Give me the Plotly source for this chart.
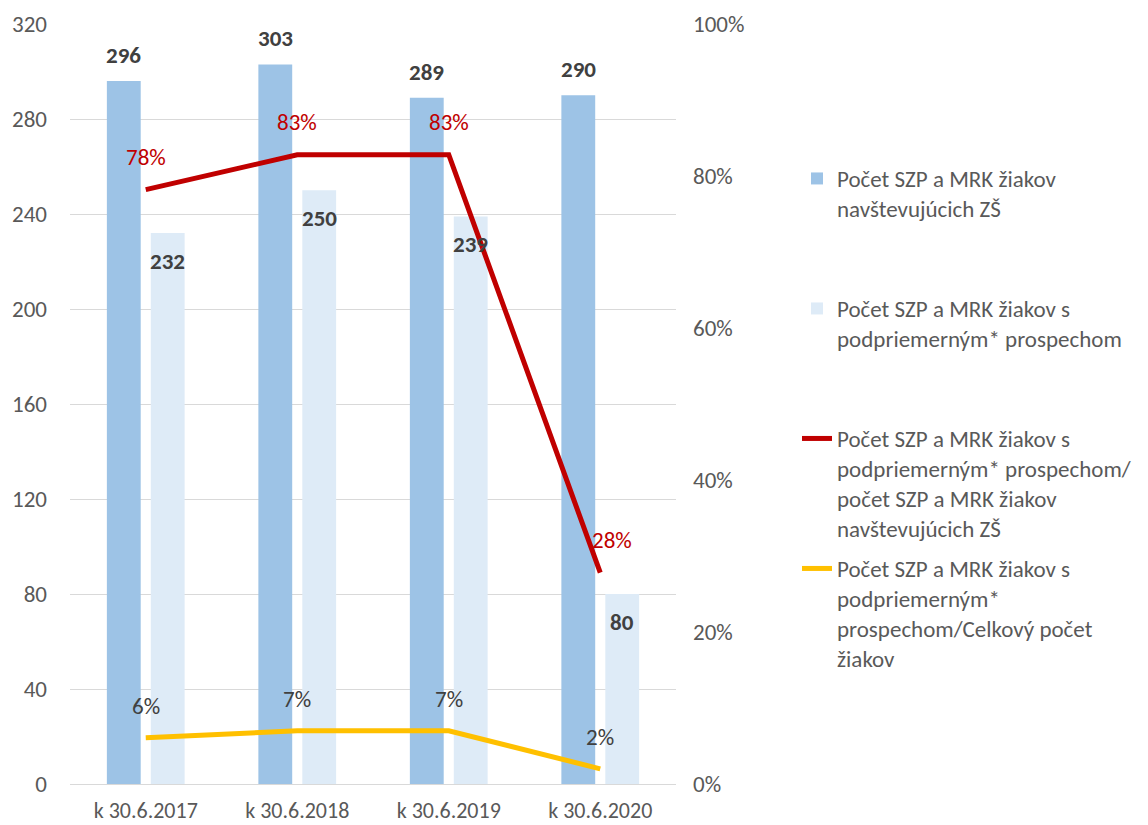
import plotly.graph_objects as go

categories = ["k 30.6.2017", "k 30.6.2018", "k 30.6.2019", "k 30.6.2020"]
pocet_zs = [296, 303, 289, 290]
pocet_podpriemer = [232, 250, 239, 80]
podiel_zs = [0.782, 0.828, 0.828, 0.278]
podiel_zs_labels = ["78%", "83%", "83%", "28%"]
podiel_celkom = [0.061, 0.07, 0.07, 0.02]
podiel_celkom_labels = ["6%", "7%", "7%", "2%"]

names = [
    "Počet SZP a MRK žiakov<br>navštevujúcich ZŠ",
    "Počet SZP a MRK žiakov s<br>podpriemerným* prospechom",
    "Počet SZP a MRK žiakov s<br>podpriemerným* prospechom/<br>počet SZP a MRK žiakov<br>navštevujúcich ZŠ",
    "Počet SZP a MRK žiakov s<br>podpriemerným*<br>prospechom/Celkový počet<br>žiakov",
]

FONT = "Calibri, Carlito, Lato, sans-serif"
OFF = 8  # page body margin
W, H = 1140, 817
L, R, T, B = 62, 472, 16, 41
pw, ph = W - L - R, H - T - B


def px_y(screen_y):
    return (T + ph - (screen_y - OFF)) / ph


def px_x(screen_x):
    return (screen_x - OFF - L) / pw


fig = go.Figure()
fig.add_trace(go.Bar(x=categories, y=pocet_zs, name=names[0], marker_color="#9dc3e6",
                     marker_line_width=0, legend="legend"))
fig.add_trace(go.Bar(x=categories, y=pocet_podpriemer, name=names[1], marker_color="#deebf7",
                     marker_line_width=0, legend="legend2"))
fig.add_trace(go.Scatter(x=categories, y=podiel_zs, name=names[2], yaxis="y2", mode="lines",
                         line=dict(color="#c00000", width=5), legend="legend3"))
fig.add_trace(go.Scatter(x=categories, y=podiel_celkom, name=names[3], yaxis="y2", mode="lines",
                         line=dict(color="#ffc000", width=5), legend="legend4"))

LBL = 23
ann = []
for c, v in zip(categories, pocet_zs):
    ann.append(dict(x=c, y=v, xref="x", yref="y", text=f"<b>{v}</b>", showarrow=False,
                    xshift=-22, yshift=26, font=dict(size=LBL, color="#404040", family=FONT)))
for c, v in zip(categories, pocet_podpriemer):
    ann.append(dict(x=c, y=v, xref="x", yref="y", text=f"<b>{v}</b>", showarrow=False,
                    xshift=22, yshift=-28, font=dict(size=LBL, color="#404040", family=FONT)))
for i, (c, v, t) in enumerate(zip(categories, podiel_zs, podiel_zs_labels)):
    ann.append(dict(x=c, y=v, xref="x", yref="y2", text=t, showarrow=False,
                    xshift=12 if i == 3 else 0, yshift=33,
                    font=dict(size=LBL, color="#c00000", family=FONT)))
for c, v, t in zip(categories, podiel_celkom, podiel_celkom_labels):
    ann.append(dict(x=c, y=v, xref="x", yref="y2", text=t, showarrow=False,
                    yshift=32, font=dict(size=LBL, color="#404040", family=FONT)))

leg_common = dict(font=dict(size=23, color="#595959", family=FONT), valign="top",
                  bgcolor="rgba(0,0,0,0)", xanchor="left", yanchor="top",
                  x=px_x(797))
fig.update_layout(
    width=W, height=H,
    margin=dict(l=L, r=R, t=T, b=B, pad=0, autoexpand=False),
    paper_bgcolor="white", plot_bgcolor="white",
    font=dict(family=FONT, size=23, color="#595959"),
    barmode="group", bargap=0.42, bargroupgap=0.23,
    showlegend=True,
    legend=dict(**leg_common, y=px_y(157)),
    legend2=dict(**leg_common, y=px_y(287)),
    legend3=dict(**leg_common, y=px_y(417)),
    legend4=dict(**leg_common, y=px_y(547)),
    xaxis=dict(showgrid=False, showline=False, ticks="", automargin=False,
               tickfont=dict(size=22, color="#595959"), ticklabelstandoff=11),
    yaxis=dict(range=[0, 320], dtick=40, showgrid=True, gridcolor="#d9d9d9", gridwidth=1.3,
               zeroline=True, zerolinecolor="#d9d9d9", zerolinewidth=1.3, showline=False,
               automargin=False, tickfont=dict(size=23, color="#595959"), ticklabelstandoff=22),
    yaxis2=dict(range=[0, 1], dtick=0.2, tickformat=".0%", overlaying="y", side="right",
                showgrid=False, zeroline=False, showline=False, automargin=False,
                tickfont=dict(size=23, color="#595959"), ticklabelstandoff=16),
    annotations=ann,
)
fig.write_html("out.html")
